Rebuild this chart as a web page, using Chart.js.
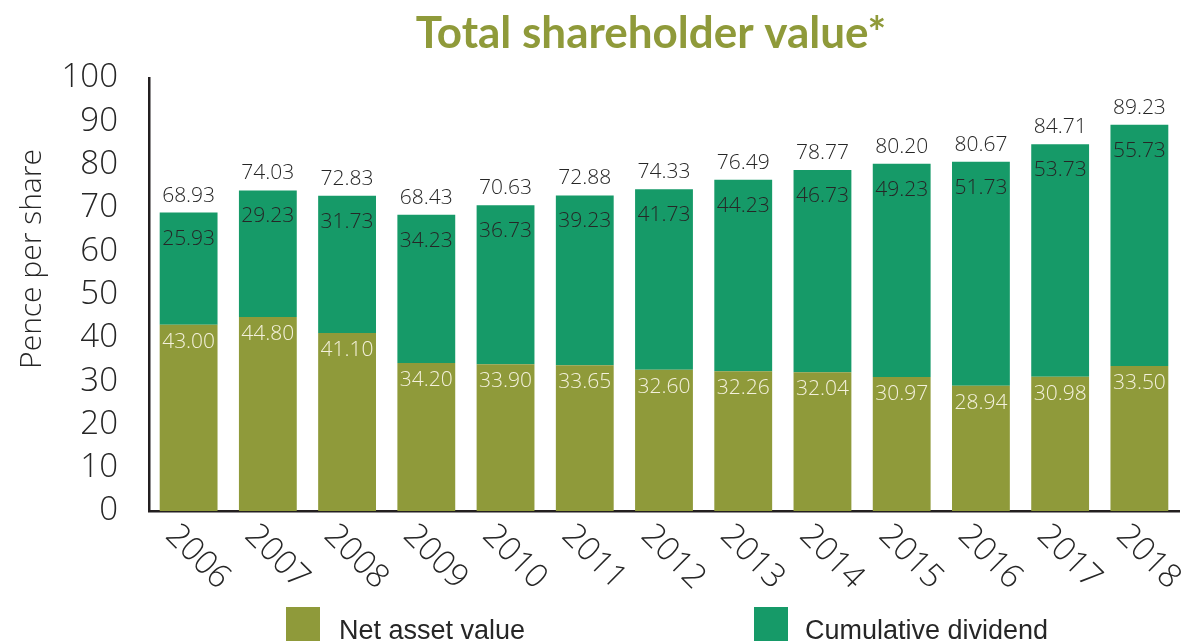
<!DOCTYPE html>
<html>
<head>
<meta charset="utf-8">
<script src="https://cdn.jsdelivr.net/npm/chart.js@4.4.0/dist/chart.umd.min.js"></script>
<style>
  html, body { margin: 0; padding: 0; background: #ffffff; }
  #wrap { position: relative; width: 1190px; height: 641px; }
</style>
</head>
<body>
<div id="wrap"><canvas id="tsvChart" width="1190" height="641"></canvas></div>
<script>
var years = ["2006","2007","2008","2009","2010","2011","2012","2013","2014","2015","2016","2017","2018"];
var netAssetValue = [43.00,44.80,41.10,34.20,33.90,33.65,32.60,32.26,32.04,30.97,28.94,30.98,33.50];
var cumulativeDividend = [25.93,29.23,31.73,34.23,36.73,39.23,41.73,44.23,46.73,49.23,51.73,53.73,55.73];
var totalLabels = ["68.93","74.03","72.83","68.43","70.63","72.88","74.33","76.49","78.77","80.20","80.67","84.71","89.23"];
var yTicks = [0,10,20,30,40,50,60,70,80,90,100];

var oliveColor = "#8f9a3a";
var greenColor = "#169a68";
var textColor = "#262626";

// draws title, axis title, rotated years, value labels and legend
var decorations = {
    id: "decorations",
    afterDatasetsDraw: function (chart) {
        var ctx = chart.ctx;
        var area = chart.chartArea;
        var xScale = chart.scales.x;
        var navMeta = chart.getDatasetMeta(0);
        var divMeta = chart.getDatasetMeta(1);

        ctx.save();

        // title
        ctx.fillStyle = oliveColor;
        ctx.font = "bold 44px Lato, 'Open Sans', sans-serif";
        ctx.textAlign = "center";
        ctx.textBaseline = "alphabetic";
        ctx.fillText("Total shareholder value*", 651, 48);

        // y axis title
        ctx.save();
        ctx.translate(32, 259);
        ctx.rotate(-Math.PI / 2);
        ctx.fillStyle = textColor;
        ctx.font = "300 30px 'Open Sans', sans-serif";
        ctx.textAlign = "center";
        ctx.textBaseline = "middle";
        ctx.fillText("Pence per share", 0, 0);
        ctx.restore();

        // year labels, rotated clockwise
        ctx.font = "300 33px 'Open Sans', sans-serif";
        ctx.fillStyle = textColor;
        for (var i = 0; i < years.length; i++) {
            var cx = xScale.getPixelForValue(i);
            ctx.save();
            ctx.translate(cx + 9, area.bottom + 46);
            ctx.rotate(Math.PI / 4);
            ctx.textAlign = "center";
            ctx.textBaseline = "middle";
            ctx.fillText(years[i], 0, 0);
            ctx.restore();
        }

        // value labels
        ctx.font = "300 21px 'Open Sans', sans-serif";
        ctx.textAlign = "center";
        ctx.textBaseline = "middle";
        for (var j = 0; j < years.length; j++) {
            var navBar = navMeta.data[j];
            var divBar = divMeta.data[j];
            ctx.fillStyle = "#f4f1dc";
            ctx.fillText(netAssetValue[j].toFixed(2), navBar.x, navBar.y + 17);
            ctx.fillStyle = textColor;
            ctx.fillText(cumulativeDividend[j].toFixed(2), divBar.x, divBar.y + 26);
            ctx.fillText(totalLabels[j], divBar.x, divBar.y - 17);
        }

        // legend
        ctx.fillStyle = oliveColor;
        ctx.fillRect(286, 607, 34, 40);
        ctx.fillStyle = greenColor;
        ctx.fillRect(754, 607, 34, 40);
        ctx.fillStyle = textColor;
        ctx.font = "27px 'Liberation Sans', Arial, sans-serif";
        ctx.textAlign = "left";
        ctx.textBaseline = "alphabetic";
        ctx.fillText("Net asset value", 339, 639);
        ctx.fillText("Cumulative dividend", 805, 639);

        ctx.restore();
    }
};

var chartData = {
    labels: years,
    datasets: [
        {
            label: "Net asset value",
            data: netAssetValue,
            backgroundColor: oliveColor,
            borderWidth: 0,
            barPercentage: 0.73,
            categoryPercentage: 1.0
        },
        {
            label: "Cumulative dividend",
            data: cumulativeDividend,
            backgroundColor: greenColor,
            borderWidth: 0,
            barPercentage: 0.73,
            categoryPercentage: 1.0
        }
    ]
};

var options = {
    responsive: false,
    animation: false,
    layout: { padding: { top: 78, right: 11, left: 0, bottom: 0 } },
    plugins: {
        legend: { display: false },
        title: { display: false },
        tooltip: { enabled: false }
    },
    scales: {
        x: {
            stacked: true,
            grid: { display: false, drawTicks: false },
            border: { display: true, color: "#231f20", width: 2.5 },
            ticks: { display: false },
            afterFit: function (scale) { scale.height = 130; }
        },
        y: {
            stacked: true,
            min: 0,
            max: 100,
            grid: { display: false, drawTicks: false },
            border: { display: true, color: "#231f20", width: 2.5 },
            afterBuildTicks: function (scale) {
                scale.ticks = yTicks.map(function (v) { return { value: v }; });
            },
            ticks: {
                color: textColor,
                padding: 31,
                autoSkip: false,
                font: { family: "'Open Sans', sans-serif", size: 33, weight: "300" }
            },
            afterFit: function (scale) { scale.width = 149; }
        }
    }
};

var ctx = document.getElementById("tsvChart");
var tsvChart = new Chart(ctx, {
    type: "bar",
    data: chartData,
    options: options,
    plugins: [decorations]
});
</script>
</body>
</html>
